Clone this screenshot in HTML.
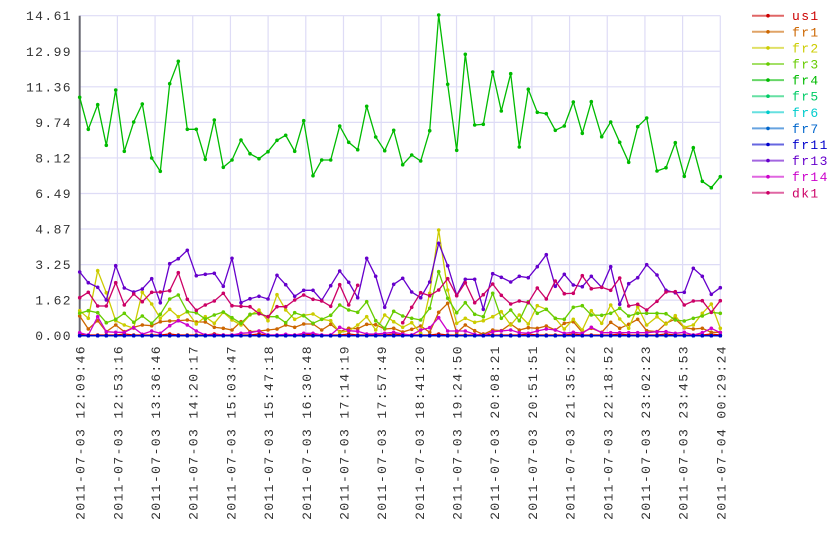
<!DOCTYPE html>
<html><head><meta charset="utf-8"><style>
html,body{margin:0;padding:0;background:#fff;}
svg{display:block;}
text{font-family:"Liberation Mono",monospace;font-size:13px;letter-spacing:1.4px;}
</style></head><body>
<svg id="c" width="840" height="560" xmlns="http://www.w3.org/2000/svg"></svg>
<script>
var s=document.getElementById('c'),h='';
var L=79.7,R=720.3,T=15.7,B=335.7;
// grid
for(var k=0;k<18;k++){var gx=L+k*(R-L)/17;h+='<line x1="'+gx+'" y1="'+T+'" x2="'+gx+'" y2="'+B+'" stroke="#dedcf6" stroke-width="1.2"/>';}
var yl=["0.00","1.62","3.25","4.87","6.49","8.12","9.74","11.36","12.99","14.61"];
for(var k=0;k<10;k++){var gy=B-k*(B-T)/9;h+='<line x1="'+L+'" y1="'+gy+'" x2="'+R+'" y2="'+gy+'" stroke="#dedcf6" stroke-width="1.2"/>';
h+='<text x="72" y="'+(gy+4.5)+'" text-anchor="end" fill="#333">'+yl[k]+'</text>';}
var xl=["12:09:46","12:53:16","13:36:46","14:20:17","15:03:47","15:47:18","16:30:48","17:14:19","17:57:49","18:41:20","19:24:50","20:08:21","20:51:51","21:35:22","22:18:52","23:02:23","23:45:53","00:29:24"];
for(var k=0;k<18;k++){var gx=L+k*(R-L)/17+5;var d=k==17?"2011-07-04":"2011-07-03";
h+='<text transform="translate('+gx+',345) rotate(-90)" text-anchor="end" fill="#333">'+d+' '+xl[k]+'</text>';}
h+='<line x1="'+L+'" y1="'+T+'" x2="'+L+'" y2="'+B+'" stroke="#666670" stroke-width="2"/>';
// x positions
var xa=[14,40,68,94,122,148,176,202,230,256,284,310,337,364,391,418,445,471,498,525,552,579,606,632,659,686,714,740,767,794,821,848,875,902,929,956,983,1010];
var xb=[32,59,86,113,140,166,194,220,248,274,302,328,355,382,409,436,463,490,517,544,575,602,629,656,683,710,741,768,796,823,850,877,904,931];
var X=[];xa.forEach(function(v){X.push(v/3+75)});xb.forEach(function(v){X.push(v/3+410)});
var D={
fr1:[948,987,962,995,975,995,982,975,977,965,963,962,960,966,966,982,985,990,965,995,993,990,987,975,982,972,972,990,973,995,985,986,973,974,987,985,996,988,978,997,937,910,998,975,992,1003,990,992,972,990,983,985,978,990,970,965,997,985,997,967,985,973,958,992,995,970,957,983,987,985,997,997],
fr2:[932,955,812,878,962,975,985,877,912,955,928,950,935,972,950,970,937,960,975,945,930,962,884,930,958,946,942,958,962,997,993,975,950,990,945,965,982,968,1000,880,690,870,970,955,967,962,950,935,975,945,972,917,928,955,987,958,990,932,970,915,957,985,920,975,950,972,947,982,975,940,912,985],
fr3:[940,932,938,968,958,940,967,948,970,943,897,885,935,938,957,945,936,953,970,943,940,950,950,968,938,947,970,958,946,915,930,937,905,962,985,934,948,955,960,925,815,895,938,908,943,950,880,955,930,962,905,940,928,955,958,922,917,945,946,940,925,948,940,940,940,941,960,963,955,948,937,940],
fr4:[292,388,314,436,270,454,366,312,474,514,251,184,388,388,478,360,502,480,420,461,476,455,421,406,454,362,527,480,480,378,427,449,319,411,452,391,494,465,483,392,45,253,451,163,375,373,216,333,221,441,268,337,341,391,378,306,400,305,410,366,427,487,380,354,513,503,428,529,443,544,563,530],
fr13:[816,848,862,900,797,864,876,867,836,908,791,776,751,827,823,820,859,775,908,896,889,897,826,854,889,871,871,901,857,813,847,893,775,829,922,853,835,876,893,846,730,797,886,838,838,928,821,832,846,829,833,800,764,859,823,855,860,829,862,800,913,851,833,794,825,871,878,877,805,829,883,863],
fr14:[998,1005,950,995,997,997,983,1003,993,1000,977,962,975,993,1005,1005,1005,1005,1000,998,993,1005,1005,1003,1005,1000,1000,1005,1005,982,992,994,1002,1002,1000,997,1002,1005,990,983,953,993,993,993,1003,1007,995,993,990,998,1000,993,987,990,1000,997,1000,982,998,998,998,998,998,998,995,995,1000,997,1005,998,985,998],
dk1:[893,877,918,918,848,915,882,905,877,876,872,818,898,931,915,903,880,917,919,920,941,950,920,920,900,885,898,903,919,854,915,856,null,null,null,null,968,922,878,887,870,836,887,848,908,884,852,886,912,903,908,864,897,843,881,880,827,866,862,871,834,918,913,930,904,876,875,915,903,902,937,902]
};
var Z=[];for(var i=0;i<72;i++)Z.push(1007);
var U=Z.slice();for(var i=0;i<72;i++)U[i]=1005-((i*7)%5==0?3:0);
var S=[["us1","#cc0000",U],["fr1","#cc6600",D.fr1],["fr2","#cccc00",D.fr2],["fr3","#66cc00",D.fr3],["fr4","#00bb00",D.fr4],["fr5","#00cc66",Z],["fr6","#00cccc",Z],["fr7","#0066cc",Z],["fr11","#0000cc",Z],["fr13","#6600cc",D.fr13],["fr14","#cc00cc",D.fr14],["dk1","#cc0066",D.dk1]];
var order=[0,1,2,3,4,5,6,7,10,9,11,8];
order.forEach(function(si){var sr=S[si],c=sr[1],v=sr[2],p='',dots='';
for(var i=0;i<72;i++){if(v[i]==null){continue;}var y=v[i]/3;var x=X[i];
p+=(i==0||v[i-1]==null?'M':'L')+x.toFixed(1)+' '+y.toFixed(1);
dots+='<circle cx="'+x.toFixed(1)+'" cy="'+y.toFixed(1)+'" r="1.8" fill="'+c+'"/>';}
h+='<path d="'+p+'" fill="none" stroke="'+c+'" stroke-width="1.3"/>'+dots;});
// legend
S.forEach(function(sr,k){var y=15.7+k*16.1;
h+='<line x1="752" y1="'+y+'" x2="784" y2="'+y+'" stroke="'+sr[1]+'" stroke-opacity="0.6" stroke-width="2"/>';
h+='<circle cx="768" cy="'+y+'" r="1.8" fill="'+sr[1]+'"/>';
h+='<text x="792" y="'+(y+4.5)+'" fill="'+sr[1]+'">'+sr[0]+'</text>';});
s.innerHTML=h;
</script>
</body></html>
